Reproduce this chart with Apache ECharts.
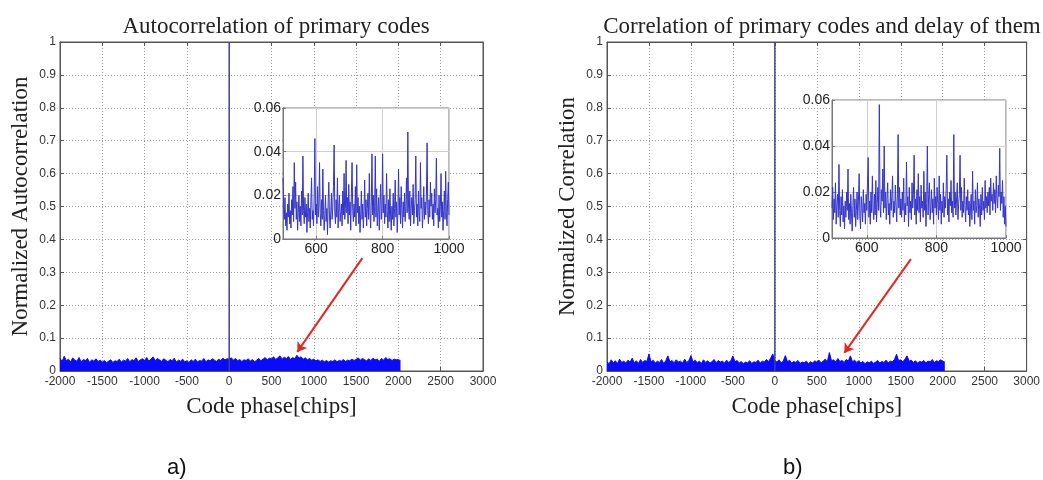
<!DOCTYPE html>
<html>
<head>
<meta charset="utf-8">
<title>Correlation of primary codes</title>
<script src="https://cdn.jsdelivr.net/npm/echarts@6/dist/echarts.min.js"></script>
<style>
  html, body { margin: 0; padding: 0; background: #fff; }
  #chart { width: 1043px; height: 480px; }
</style>
</head>
<body>
<div id="chart"></div>
<script>
// main plots: code phase axis and the dense correlation band (one value per 25 chips)
const phaseTicks = [-2000, 3000, 500];
const bandStart = -2000;
const bandStep = 25;
const bandA = [
  0.038, 0.029, 0.045, 0.031, 0.036, 0.027, 0.040, 0.033, 0.030, 0.041, 0.028, 0.035, 0.032, 0.038, 0.026, 0.034, 0.030, 0.037, 0.029, 0.033,
  0.027, 0.032, 0.025, 0.030, 0.034, 0.026, 0.031, 0.029, 0.036, 0.027, 0.033, 0.030, 0.038, 0.028, 0.035, 0.031, 0.040, 0.029, 0.034, 0.037,
  0.032, 0.041, 0.030, 0.036, 0.043, 0.031, 0.038, 0.034, 0.029, 0.037, 0.033, 0.028, 0.035, 0.031, 0.039, 0.027, 0.033, 0.030, 0.036, 0.028,
  0.031, 0.026, 0.034, 0.029, 0.036, 0.027, 0.032, 0.030, 0.038, 0.028, 0.034, 0.031, 0.037, 0.033, 0.029, 0.036, 0.032, 0.039, 0.034, 0.037,
  0.036, 0.040, 0.033, 0.038, 0.031, 0.035, 0.029, 0.034, 0.032, 0.037, 0.030, 0.035, 0.028, 0.033, 0.038, 0.031, 0.036, 0.041, 0.034, 0.039,
  0.037, 0.043, 0.035, 0.040, 0.046, 0.036, 0.042, 0.038, 0.044, 0.035, 0.041, 0.037, 0.048, 0.039, 0.043, 0.036, 0.040, 0.034, 0.038, 0.033,
  0.036, 0.031, 0.034, 0.029, 0.033, 0.028, 0.032, 0.027, 0.031, 0.029, 0.034, 0.028, 0.032, 0.030, 0.035, 0.029, 0.033, 0.031, 0.036, 0.032,
  0.035, 0.040, 0.033, 0.038, 0.034, 0.031, 0.037, 0.032, 0.039, 0.034, 0.036, 0.030, 0.038, 0.033, 0.041, 0.035, 0.037, 0.032, 0.036, 0.034,
  0.035, 0.031
];
const bandB = [
  0.028, 0.022, 0.034, 0.025, 0.031, 0.023, 0.036, 0.026, 0.030, 0.024, 0.033, 0.027, 0.039, 0.025, 0.031, 0.023, 0.035, 0.026, 0.032, 0.029,
  0.052, 0.027, 0.033, 0.024, 0.030, 0.026, 0.035, 0.023, 0.031, 0.046, 0.028, 0.032, 0.025, 0.034, 0.027, 0.030, 0.024, 0.036, 0.026, 0.031,
  0.047, 0.027, 0.033, 0.025, 0.030, 0.023, 0.034, 0.026, 0.031, 0.024, 0.028, 0.035, 0.025, 0.032, 0.027, 0.030, 0.024, 0.033, 0.026, 0.031,
  0.046, 0.028, 0.032, 0.024, 0.029, 0.022, 0.027, 0.025, 0.031, 0.023, 0.028, 0.026, 0.033, 0.024, 0.030, 0.027, 0.035, 0.029, 0.039, 0.052,
  0.031, 0.027, 0.034, 0.025, 0.030, 0.047, 0.028, 0.033, 0.024, 0.029, 0.026, 0.032, 0.023, 0.027, 0.025, 0.030, 0.022, 0.028, 0.024, 0.031,
  0.027, 0.033, 0.025, 0.030, 0.036, 0.028, 0.056, 0.031, 0.034, 0.027, 0.038, 0.029, 0.032, 0.026, 0.035, 0.030, 0.046, 0.028, 0.033, 0.026,
  0.031, 0.024, 0.029, 0.022, 0.028, 0.025, 0.030, 0.023, 0.027, 0.032, 0.024, 0.029, 0.026, 0.033, 0.025, 0.030, 0.028, 0.035, 0.051, 0.031,
  0.034, 0.028, 0.036, 0.046, 0.030, 0.033, 0.026, 0.031, 0.024, 0.029, 0.027, 0.032, 0.025, 0.030, 0.028, 0.035, 0.026, 0.031, 0.029, 0.034,
  0.030, 0.027
];
// correlation peak at zero lag
const peakLag = 0;
const peakValue = 1;

// insets: chips 500..1000, one value per 2 chips
const insetStart = 500;
const insetStep = 2;
const insetTicks = [600, 800, 1000];
const insetA = [
  0.028, 0.015, 0.009, 0.019, 0.006, 0.012, 0.004, 0.016, 0.010, 0.021, 0.007, 0.013, 0.005, 0.018, 0.011, 0.024, 0.008, 0.035, 0.014, 0.026, 0.009, 0.017, 0.004, 0.012, 0.020,
  0.008, 0.015, 0.006, 0.022, 0.011, 0.038, 0.013, 0.007, 0.019, 0.010, 0.016, 0.003, 0.012, 0.021, 0.008, 0.014, 0.005, 0.017, 0.028, 0.009, 0.013, 0.006, 0.020, 0.046, 0.011,
  0.016, 0.007, 0.024, 0.010, 0.015, 0.035, 0.012, 0.006, 0.018, 0.009, 0.032, 0.013, 0.004, 0.011, 0.020, 0.008, 0.014, 0.002, 0.017, 0.026, 0.010, 0.005, 0.013, 0.021, 0.009,
  0.015, 0.024, 0.043, 0.012, 0.007, 0.018, 0.010, 0.028, 0.005, 0.014, 0.020, 0.008, 0.012, 0.016, 0.006, 0.022, 0.011, 0.030, 0.009, 0.014, 0.036, 0.012, 0.019, 0.007, 0.025,
  0.011, 0.017, 0.004, 0.021, 0.035, 0.013, 0.008, 0.016, 0.010, 0.024, 0.006, 0.034, 0.012, 0.019, 0.007, 0.015, 0.003, 0.011, 0.022, 0.009, 0.016, 0.005, 0.013, 0.027, 0.010,
  0.018, 0.006, 0.014, 0.021, 0.009, 0.030, 0.012, 0.005, 0.017, 0.039, 0.011, 0.020, 0.008, 0.015, 0.038, 0.010, 0.023, 0.006, 0.013, 0.019, 0.004, 0.016, 0.025, 0.009, 0.014,
  0.039, 0.012, 0.020, 0.007, 0.016, 0.010, 0.030, 0.013, 0.005, 0.018, 0.008, 0.023, 0.011, 0.004, 0.015, 0.009, 0.021, 0.006, 0.014, 0.027, 0.010, 0.017, 0.003, 0.012, 0.032,
  0.011, 0.019, 0.007, 0.024, 0.013, 0.005, 0.017, 0.010, 0.021, 0.008, 0.015, 0.028, 0.012, 0.049, 0.016, 0.009, 0.022, 0.006, 0.014, 0.019, 0.011, 0.025, 0.007, 0.013, 0.018,
  0.038, 0.010, 0.016, 0.006, 0.022, 0.012, 0.008, 0.035, 0.014, 0.019, 0.005, 0.013, 0.024, 0.009, 0.017, 0.011, 0.020, 0.044, 0.013, 0.007, 0.018, 0.010, 0.026, 0.015, 0.021,
  0.009, 0.016, 0.006, 0.023, 0.012, 0.018, 0.037, 0.011, 0.014, 0.005, 0.020, 0.008, 0.015, 0.030, 0.010, 0.017, 0.004, 0.013, 0.022, 0.009, 0.031, 0.012, 0.006, 0.018, 0.026,
  0.011
];
const insetB = [
  0.013, 0.022, 0.008, 0.017, 0.011, 0.024, 0.006, 0.015, 0.019, 0.009, 0.032, 0.012, 0.005, 0.018, 0.010, 0.021, 0.007, 0.014, 0.004, 0.016, 0.009, 0.020, 0.012, 0.030, 0.008,
  0.015, 0.006, 0.019, 0.011, 0.003, 0.014, 0.022, 0.009, 0.017, 0.005, 0.012, 0.020, 0.008, 0.016, 0.028, 0.010, 0.004, 0.018, 0.013, 0.007, 0.021, 0.011, 0.015, 0.006, 0.019,
  0.012, 0.024, 0.035, 0.009, 0.016, 0.006, 0.020, 0.011, 0.027, 0.013, 0.008, 0.019, 0.010, 0.025, 0.007, 0.015, 0.022, 0.012, 0.058, 0.014, 0.009, 0.021, 0.016, 0.030, 0.011,
  0.040, 0.013, 0.020, 0.008, 0.017, 0.024, 0.010, 0.015, 0.006, 0.021, 0.012, 0.018, 0.027, 0.009, 0.016, 0.011, 0.023, 0.014, 0.007, 0.019, 0.045, 0.013, 0.022, 0.010, 0.017,
  0.009, 0.020, 0.012, 0.026, 0.007, 0.015, 0.010, 0.033, 0.014, 0.018, 0.005, 0.022, 0.011, 0.016, 0.008, 0.024, 0.013, 0.019, 0.036, 0.010, 0.017, 0.006, 0.021, 0.012, 0.028,
  0.011, 0.018, 0.007, 0.023, 0.013, 0.016, 0.009, 0.029, 0.012, 0.020, 0.005, 0.015, 0.040, 0.010, 0.019, 0.024, 0.008, 0.014, 0.021, 0.011, 0.017, 0.006, 0.026, 0.013, 0.018,
  0.010, 0.022, 0.015, 0.008, 0.027, 0.012, 0.019, 0.006, 0.016, 0.011, 0.024, 0.009, 0.018, 0.013, 0.021, 0.036, 0.010, 0.017, 0.007, 0.020, 0.014, 0.025, 0.011, 0.016, 0.009,
  0.045, 0.013, 0.020, 0.010, 0.017, 0.024, 0.008, 0.015, 0.019, 0.036, 0.012, 0.022, 0.009, 0.016, 0.011, 0.026, 0.014, 0.007, 0.018, 0.012, 0.021, 0.010, 0.016, 0.005, 0.013,
  0.019, 0.008, 0.029, 0.012, 0.016, 0.006, 0.021, 0.011, 0.014, 0.024, 0.009, 0.017, 0.013, 0.005, 0.019, 0.010, 0.022, 0.012, 0.016, 0.008, 0.025, 0.013, 0.018, 0.011, 0.020,
  0.014, 0.022, 0.010, 0.026, 0.016, 0.019, 0.012, 0.024, 0.015, 0.021, 0.011, 0.027, 0.017, 0.013, 0.023, 0.018, 0.039, 0.012, 0.020, 0.015, 0.025, 0.009, 0.018, 0.006, 0.014,
  0.005
];

// red arrows pointing from the inset down to the band (data units: chips, correlation)
const arrowA = [[1574, 0.343], [805, 0.058]];
const arrowB = [[1621, 0.340], [828, 0.055]];

const SERIF = 'Liberation Serif';
const SANS = 'Liberation Sans';

function pairs(start, step, values) {
  return values.map((v, i) => [start + i * step, v]);
}

const panels = [
  {
    title: 'Autocorrelation of primary codes', yName: 'Normalized Autocorrelation', tag: 'a)',
    band: bandA, inset: insetA, arrow: arrowA,
    main: {left: 60, top: 42, width: 423, height: 329},
    box: {left: 283, top: 108, width: 166, height: 131},
    titleX: 271, tagX: 162,
  },
  {
    title: 'Correlation of primary codes and delay of them', yName: 'Normalized Correlation', tag: 'b)',
    band: bandB, inset: insetB, arrow: arrowB,
    main: {left: 607, top: 42, width: 423, height: 329},
    box: {left: 832, top: 100, width: 174, height: 138},
    titleX: 817, tagX: 778,
  },
];

const grid = [];
const xAxis = [];
const yAxis = [];
const series = [];
const title = [];

const dotted = {show: true, lineStyle: {color: '#9a9a9a', type: [1, 2], width: 1}};
const frame = {show: true, onZero: false, lineStyle: {color: '#555', width: 1}};
const tickIn = {show: true, inside: true, length: 4, lineStyle: {color: '#555'}};
const plain = (v) => String(v);

panels.forEach((p, k) => {
  const g = 2 * k;
  grid.push({...p.main, show: true, borderColor: '#555', borderWidth: 1, backgroundColor: 'transparent'});
  grid.push({...p.box, show: true, z: 3, borderColor: '#777', borderWidth: 1, backgroundColor: '#fff'});

  title.push({
    text: p.title, left: p.titleX, top: 10, textAlign: 'center',
    textStyle: {fontFamily: SERIF, fontSize: 23, fontWeight: 'normal', color: '#222'},
  });
  title.push({
    text: p.tag, left: p.tagX, top: 452,
    textStyle: {fontFamily: SANS, fontSize: 22, fontWeight: 'normal', color: '#111'},
  });

  // main x: bottom with labels, top with ticks only
  const xi = xAxis.length;
  xAxis.push({
    type: 'value', gridIndex: g, min: phaseTicks[0], max: phaseTicks[1], interval: phaseTicks[2],
    name: 'Code phase[chips]', nameLocation: 'middle', nameGap: 24,
    nameTextStyle: {fontFamily: SERIF, fontSize: 23, color: '#222'},
    axisLine: frame, axisTick: tickIn, splitLine: dotted,
    axisLabel: {fontFamily: SANS, fontSize: 12, color: '#333', margin: 5, formatter: plain},
  });
  xAxis.push({
    type: 'value', gridIndex: g, position: 'top', min: phaseTicks[0], max: phaseTicks[1], interval: phaseTicks[2],
    axisLine: frame, axisTick: tickIn, axisLabel: {show: false}, splitLine: {show: false},
  });
  const yi = yAxis.length;
  yAxis.push({
    type: 'value', gridIndex: g, min: 0, max: 1, interval: 0.1,
    name: p.yName, nameLocation: 'middle', nameGap: 28,
    nameTextStyle: {fontFamily: SERIF, fontSize: 23, color: '#222'},
    axisLine: frame, axisTick: tickIn, splitLine: dotted,
    axisLabel: {fontFamily: SANS, fontSize: 12, color: '#333', margin: 4},
  });
  yAxis.push({
    type: 'value', gridIndex: g, position: 'right', min: 0, max: 1, interval: 0.1,
    axisLine: frame, axisTick: tickIn, axisLabel: {show: false}, splitLine: {show: false},
  });

  // inset axes
  const ixi = xAxis.length;
  xAxis.push({
    type: 'value', gridIndex: g + 1, min: insetStart, max: 1000, z: 3,
    axisLine: {show: true, onZero: false, lineStyle: {color: '#777'}},
    axisTick: {show: true, inside: true, length: 3, customValues: insetTicks, lineStyle: {color: '#777'}},
    axisLabel: {customValues: insetTicks, fontFamily: SANS, fontSize: 14, color: '#222', margin: 3, formatter: plain},
    splitLine: {show: true, lineStyle: {color: '#cfcfcf', width: 1}},
  });
  const iyi = yAxis.length;
  yAxis.push({
    type: 'value', gridIndex: g + 1, min: 0, max: 0.06, interval: 0.02, z: 3,
    axisLine: {show: true, onZero: false, lineStyle: {color: '#777'}},
    axisTick: {show: true, inside: true, length: 3, lineStyle: {color: '#777'}},
    axisLabel: {
      fontFamily: SANS, fontSize: 14, color: '#222', margin: 2,
      formatter: (v) => (v === 0 ? '0' : v.toFixed(2)),
    },
    splitLine: {show: true, lineStyle: {color: '#cfcfcf', width: 1}},
  });

  series.push({
    type: 'line', xAxisIndex: xi, yAxisIndex: yi, z: 2,
    data: pairs(bandStart, bandStep, p.band),
    symbol: 'none', lineStyle: {color: '#0a0aff', width: 1},
    areaStyle: {color: '#0a0aff', opacity: 1},
    markLine: {
      silent: true, symbol: ['none', 'arrow'], symbolSize: 9,
      lineStyle: {color: '#e3261f', width: 2, type: 'solid'},
      label: {show: false},
      data: [[{coord: p.arrow[0]}, {coord: p.arrow[1]}]],
    },
  });
  series.push({
    type: 'line', xAxisIndex: xi, yAxisIndex: yi, z: 2,
    data: [[peakLag, 0], [peakLag, peakValue]],
    symbol: 'none', lineStyle: {color: '#40409a', width: 1.5},
  });
  series.push({
    type: 'line', xAxisIndex: ixi, yAxisIndex: iyi, z: 4,
    data: pairs(insetStart, insetStep, p.inset),
    symbol: 'none', lineStyle: {color: '#3434c8', width: 1},
  });
});

const chart = echarts.init(document.getElementById('chart'));
chart.setOption({
  animation: false,
  backgroundColor: '#fff',
  title,
  grid,
  xAxis,
  yAxis,
  series,
});
</script>
</body>
</html>
